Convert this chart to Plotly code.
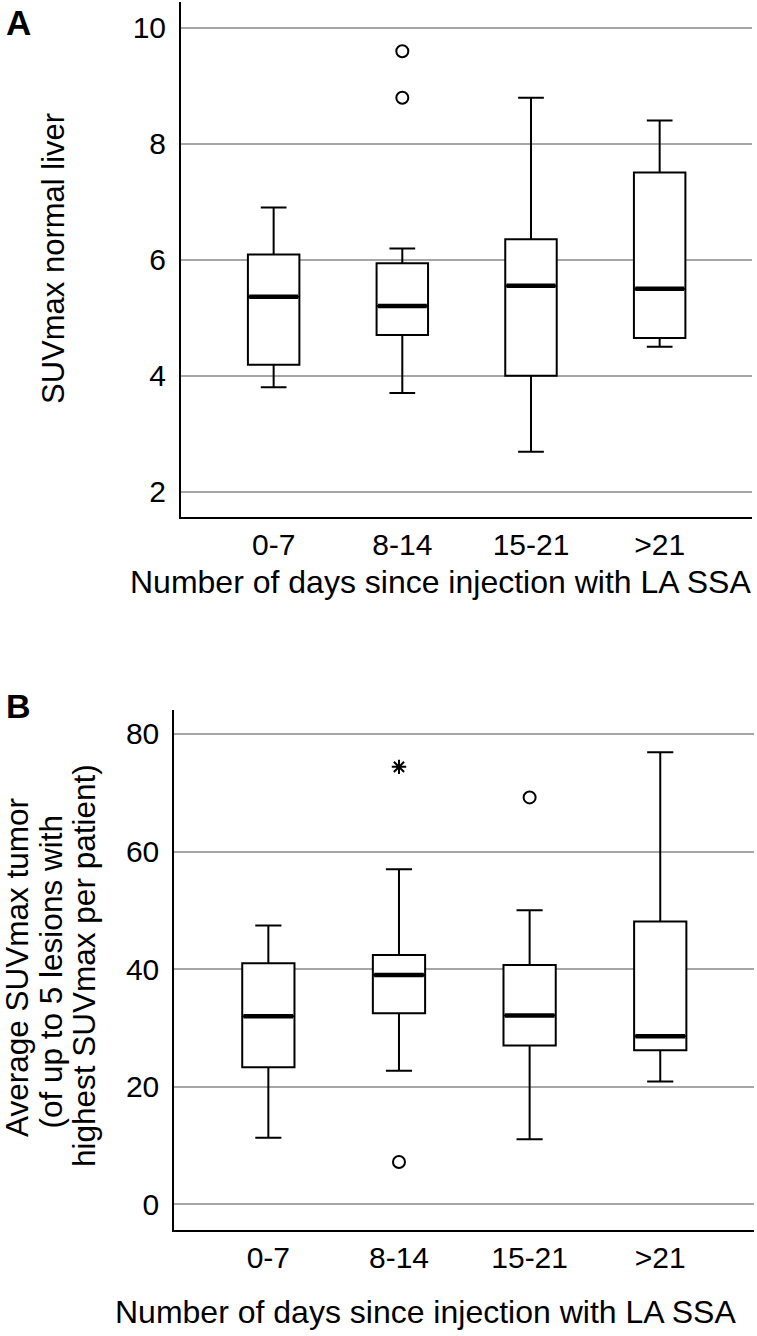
import plotly.graph_objects as go

# ---------------- data ----------------
categories = ["0-7", "8-14", "15-21", ">21"]

# Panel A: SUVmax normal liver
liver_lower = [3.80, 3.70, 2.69, 4.50]
liver_q1 = [4.19, 4.70, 4.00, 4.65]
liver_median = [5.36, 5.20, 5.55, 5.50]
liver_q3 = [6.09, 5.94, 6.35, 7.50]
liver_upper = [6.90, 6.19, 8.79, 8.40]
liver_out_cat = ["8-14", "8-14"]
liver_out_val = [9.59, 8.79]
liver_out_kind = ["circle", "circle"]

# Panel B: Average SUVmax tumor
tumor_lower = [11.3, 22.7, 11.05, 20.9]
tumor_q1 = [23.3, 32.5, 27.0, 26.2]
tumor_median = [32.0, 39.0, 32.1, 28.6]
tumor_q3 = [41.0, 42.4, 40.7, 48.1]
tumor_upper = [47.4, 57.0, 50.0, 76.9]
tumor_out_cat = ["8-14", "8-14", "15-21"]
tumor_out_val = [74.4, 7.2, 69.2]
tumor_out_kind = ["star", "circle", "circle"]

liver_ticks = [2, 4, 6, 8, 10]
tumor_ticks = [0, 20, 40, 60, 80]

liver_title = "SUVmax normal liver"
tumor_title_lines = ["Average SUVmax tumor", "(of up to 5 lesions with",
                     "highest SUVmax per patient)"]
x_title = "Number of days since injection with LA SSA"

# ---------------- layout constants ----------------
W, H = 757, 1336
FONT = "Liberation Sans, Arial, sans-serif"
BOX_W = 0.4
pos = list(range(len(categories)))


def px_x(p):
    return p / W


def px_y(p):
    return 1 - p / H


fig = go.Figure()


def add_panel(xa, ya, lower, q1, med, q3, upper, out_cat, out_val, out_kind):
    fig.add_trace(go.Box(
        x=pos, q1=q1, median=med, q3=q3, lowerfence=lower, upperfence=upper,
        width=BOX_W, whiskerwidth=0.5,
        fillcolor="white", line=dict(color="black", width=2),
        boxpoints=False, xaxis=xa, yaxis=ya, showlegend=False,
        hoverinfo="skip",
    ))
    # thicker median lines
    mx, my = [], []
    for i, m in zip(pos, med):
        mx += [i - BOX_W / 2 + 0.01, i + BOX_W / 2 - 0.01, None]
        my += [m, m, None]
    fig.add_trace(go.Scatter(
        x=mx, y=my, mode="lines", line=dict(color="black", width=4.5),
        xaxis=xa, yaxis=ya, showlegend=False, hoverinfo="skip",
    ))
    # outliers
    ox = [categories.index(c) for c in out_cat]
    sym = ["circle-open" if k == "circle" else "asterisk-open" for k in out_kind]
    fig.add_trace(go.Scatter(
        x=ox, y=out_val, mode="markers",
        marker=dict(symbol=sym, size=12, color="black",
                    line=dict(color="black", width=2)),
        xaxis=xa, yaxis=ya, showlegend=False, hoverinfo="skip",
    ))


add_panel("x", "y", liver_lower, liver_q1, liver_median, liver_q3, liver_upper,
          liver_out_cat, liver_out_val, liver_out_kind)
add_panel("x2", "y2", tumor_lower, tumor_q1, tumor_median, tumor_q3, tumor_upper,
          tumor_out_cat, tumor_out_val, tumor_out_kind)

axis_common = dict(showline=True, linecolor="black", linewidth=2,
                   zeroline=False, ticks="",
                   tickfont=dict(size=30, color="black", family=FONT))
GRID = dict(showgrid=True, gridcolor="#a6a6a6", gridwidth=2)

fig.update_layout(
    width=W, height=H,
    margin=dict(l=0, r=0, t=0, b=0),
    paper_bgcolor="white", plot_bgcolor="white",
    font=dict(family=FONT, color="black"),
    showlegend=False,
    xaxis=dict(domain=[px_x(181), px_x(752.3)], anchor="y",
               range=[-0.72, 3.72], tickvals=pos, ticktext=categories,
               showgrid=False, ticklabelstandoff=0, **axis_common),
    yaxis=dict(domain=[px_y(517.3), px_y(2)], anchor="x",
               range=[1.56, 10.44], tickvals=liver_ticks,
               ticklabelstandoff=7, **GRID, **axis_common),
    xaxis2=dict(domain=[px_x(174.3), px_x(754.3)], anchor="y2",
                range=[-0.72, 3.72], tickvals=pos, ticktext=categories,
                showgrid=False, ticklabelstandoff=0, **axis_common),
    yaxis2=dict(domain=[px_y(1230), px_y(710.4)], anchor="x2",
                range=[-4.37, 84.0], tickvals=tumor_ticks,
                ticklabelstandoff=7, **GRID, **axis_common),
)

ann = [
    dict(text="<b>A</b>", x=px_x(4), y=px_y(1), xanchor="left", yanchor="top",
         font=dict(size=35)),
    dict(text="<b>B</b>", x=px_x(4), y=px_y(685), xanchor="left", yanchor="top",
         font=dict(size=34)),
    dict(text=liver_title, x=px_x(54), y=px_y(259), textangle=-90,
         xanchor="center", yanchor="middle", font=dict(size=31)),
    dict(text=x_title, x=px_x(440), y=px_y(582),
         xanchor="center", yanchor="middle", font=dict(size=32)),
    dict(text=x_title, x=px_x(425), y=px_y(1312),
         xanchor="center", yanchor="middle", font=dict(size=32)),
]
for line, cx, cy in zip(tumor_title_lines, [17, 50.5, 84], [968, 972, 966]):
    ann.append(dict(text=line, x=px_x(cx), y=px_y(cy), textangle=-90,
                    xanchor="center", yanchor="middle", font=dict(size=31.5)))
for a in ann:
    a.update(xref="paper", yref="paper", showarrow=False)
    a["font"].update(family=FONT, color="black")
fig.update_layout(annotations=ann)

fig.write_html("out.html",
               config={"displayModeBar": False, "staticPlot": True},
               post_script="document.body.style.margin='0';document.body.style.padding='0';")
